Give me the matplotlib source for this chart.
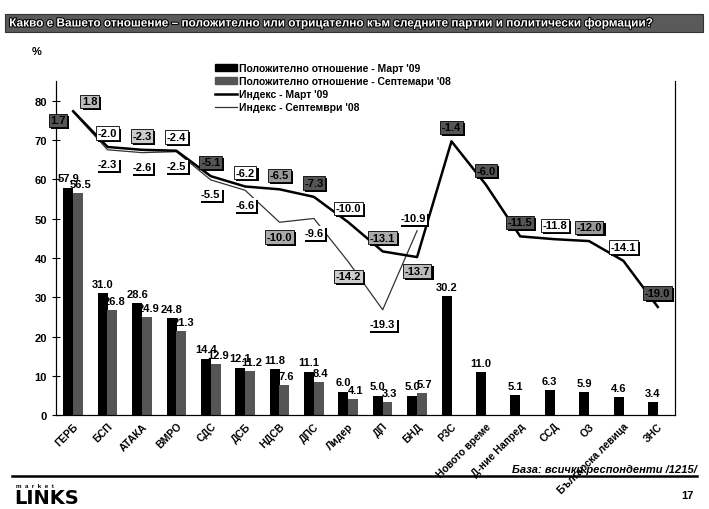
import numpy as np
import matplotlib.pyplot as plt
import matplotlib.patheffects as pe
from matplotlib.patches import Rectangle
from matplotlib.lines import Line2D

# data
parties = ["ГЕРБ", "БСП", "АТАКА", "ВМРО", "СДС", "ДСБ", "НДСВ", "ДПС", "Лидер", "ДП",
           "БНД", "РЗС", "Новото време", "Д-ние Напред", "ССД", "ОЗ", "Българска левица", "ЗНС"]
pos_mar09 = [57.9, 31.0, 28.6, 24.8, 14.4, 12.1, 11.8, 11.1, 6.0, 5.0,
             5.0, 30.2, 11.0, 5.1, 6.3, 5.9, 4.6, 3.4]
pos_sep08 = [56.5, 26.8, 24.9, 21.3, 12.9, 11.2, 7.6, 8.4, 4.1, 3.3, 5.7]
idx_mar09 = [1.8, -2.0, -2.3, -2.4, -5.1, -6.2, -6.5, -7.3, -10.0, -13.1,
             -13.7, -1.4, -6.0, -11.5, -11.8, -12.0, -14.1, -19.0]
idx_sep08 = [1.7, -2.3, -2.6, -2.5, -5.5, -6.6, -10.0, -9.6, -14.2, -19.3, -10.9]

# label box fill ('L' = only shadow bracket)
box_mar = ["#bbbbbb", "white", "#cccccc", "white", "#555555", "white", "#999999", "#555555", "white",
           "#aaaaaa", "#bbbbbb", "#555555", "#555555", "#555555", "white", "#999999", "white", "#555555"]
box_sep = ["#555555", "L", "L", "L", "L", "L", "#aaaaaa", "L", "#cccccc", "L", "L"]

FONT = "Liberation Sans"
plt.rcParams['font.family'] = FONT

fig = plt.figure(figsize=(7.09, 5.10), dpi=100)
ax = fig.add_axes([0.079, 0.184, 0.873, 0.655])
ax2 = ax.twinx()

x = np.arange(len(parties))
w = 0.29
ax.bar(x - 0.14, pos_mar09, w, color="black", zorder=2)
xs = x[:len(pos_sep08)]
ax.bar(xs + 0.14, pos_sep08, w, color="#555555", zorder=2)

for xi, v in zip(x, pos_mar09):
    ax.annotate(f"{v:.1f}", (xi - 0.14, v), xytext=(0, 3), textcoords="offset points",
                ha="center", va="bottom", fontsize=8, fontweight="bold")
for xi, v in zip(xs, pos_sep08):
    ax.annotate(f"{v:.1f}", (xi + 0.2, v), xytext=(0, 3), textcoords="offset points",
                ha="center", va="bottom", fontsize=8, fontweight="bold")

ax.set_xlim(-0.5, len(parties) - 0.5)
ax.set_ylim(0, 85)
ax.set_yticks(range(0, 81, 10))
ax.tick_params(axis="y", direction="inout", length=6, labelsize=8)
for t in ax.get_yticklabels():
    t.set_fontweight("bold")
ax.set_xticks(x)
ax.set_xticklabels(parties, rotation=45, ha="right", rotation_mode="anchor",
                   fontsize=7.5, fontweight="bold")
ax.tick_params(axis="x", length=0, pad=4)
ax.spines["top"].set_visible(False)
ax2.spines["top"].set_visible(False)

# index lines on a hidden secondary scale
ax2.set_ylim(-30.5, 5.0)
ax2.set_yticks([])
ax2.plot(xs, idx_sep08, color="#333333", lw=0.9, zorder=3)
ax2.plot(x, idx_mar09, color="black", lw=1.8, zorder=4)


def box_label(v, xi, dy, dx, fill):
    if fill == "L":
        bb = dict(boxstyle="square,pad=0.15", fc="white", ec="none")
    else:
        bb = dict(boxstyle="square,pad=0.15", fc=fill, ec="black", lw=0.6)
    t = ax2.annotate(f"{v:.1f}", (xi, v), xytext=(dx, dy), textcoords="offset points",
                     ha="center", va="center", fontsize=8, fontweight="bold", bbox=bb, zorder=6)
    t.get_bbox_patch().set_path_effects([pe.SimplePatchShadow(offset=(1.5, -1.5), shadow_rgbFace="black",
                                                              alpha=1), pe.Normal()])
    return t


for i, (v, f) in enumerate(zip(idx_mar09, box_mar)):
    dy, dx = 10, 0
    if i == 0:
        dy, dx = 7, 12
    if i == 10:
        dy = -10
    box_label(v, x[i], dy, dx, f)
for i, (v, f) in enumerate(zip(idx_sep08, box_sep)):
    dy, dx = -10.5, 0
    if i == 0:
        dy, dx = -6, -11
    if i == 10:
        dy, dx = 9, -3
    box_label(v, x[i], dy, dx, f)

handles = [Rectangle((0, 0), 1, 1, color="black"),
           Rectangle((0, 0), 1, 1, color="#555555"),
           Line2D([], [], color="black", lw=1.8),
           Line2D([], [], color="#333333", lw=0.9)]
labels = ["Положително отношение - Март '09", "Положително отношение - Септемари '08",
          "Индекс - Март '09", "Индекс - Септември '08"]
fig.legend(handles, labels, loc="upper left", bbox_to_anchor=(0.298, 0.882), frameon=False,
           prop={"family": FONT, "weight": "bold", "size": 7.5}, handlelength=2.1,
           handleheight=0.6, handletextpad=0.2, labelspacing=0.28, borderaxespad=0)

fig.text(0.052, 0.898, "%", fontsize=8, fontweight="bold", ha="center", va="center")

# title banner
fig.patches.append(Rectangle((0.007, 0.935), 0.985, 0.035, transform=fig.transFigure,
                             fc="#5a5a5a", ec="#333333", lw=0.8))
fig.text(0.013, 0.952, "Какво е Вашето отношение – положително или отрицателно към следните партии и политически формации?",
         fontsize=8.5, fontweight="bold", color="white", va="center", ha="left",
         path_effects=[pe.withStroke(linewidth=1.5, foreground="black")])

# footer
fig.text(0.983, 0.078, "База: всички респонденти /1215/", fontsize=8, fontweight="bold",
         style="italic", ha="right", va="center")
fig.add_artist(Line2D([0.017, 0.983], [0.064, 0.064], color="black", lw=1.8, transform=fig.transFigure))
fig.text(0.022, 0.046, "m  a  r  k  e  t", fontsize=4.5, fontweight="bold", ha="left", va="center")
fig.text(0.020, 0.022, "LINKS", fontsize=14, fontweight="bold", ha="left", va="center",
         family="DejaVu Sans")
fig.text(0.978, 0.028, "17", fontsize=8, fontweight="bold", ha="right", va="center")

fig.savefig("out.png", dpi=100)
